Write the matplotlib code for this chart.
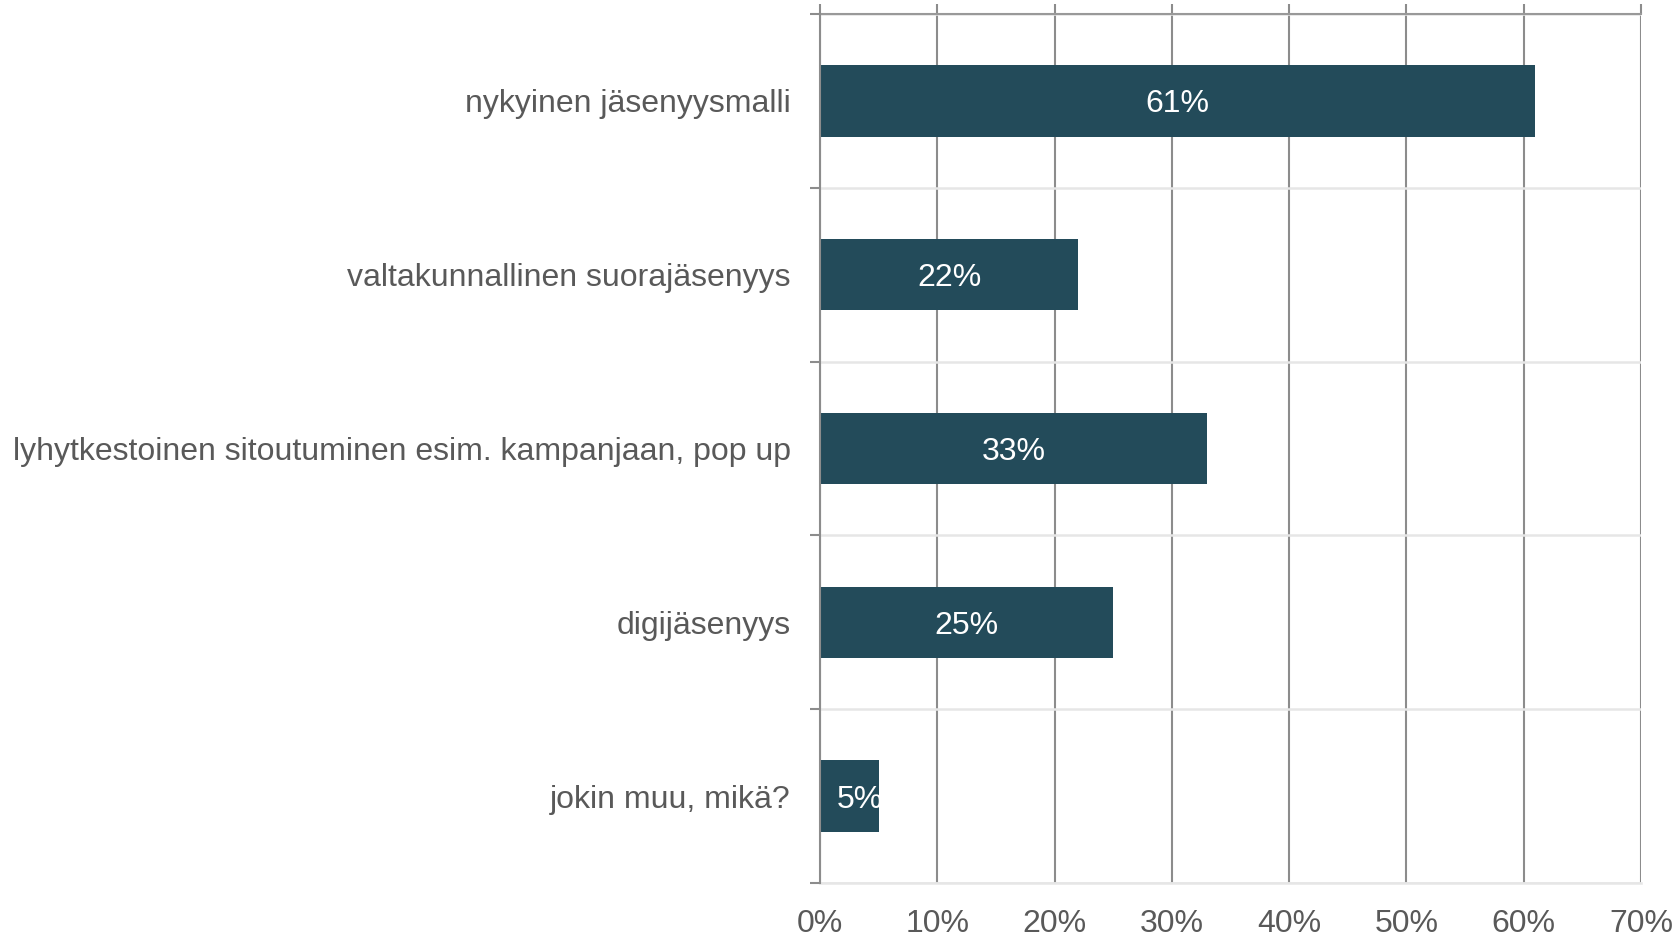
import numpy as np
import matplotlib.pyplot as plt

# data
categories = ["nykyinen jäsenyysmalli",
              "valtakunnallinen suorajäsenyys",
              "lyhytkestoinen sitoutuminen esim. kampanjaan, pop up",
              "digijäsenyys",
              "jokin muu, mikä?"]
values = [61, 22, 33, 25, 5]
xticks = [0, 10, 20, 30, 40, 50, 60, 70]

plt.rcParams['font.family'] = ['Liberation Sans', 'DejaVu Sans']
fs = 23

fig = plt.figure(figsize=(16.8, 9.39), dpi=100)
ax = fig.add_axes([820/1680, 1 - 883/939, (1641 - 820)/1680, (883 - 14)/939])

y = np.arange(len(categories))
bars = ax.barh(y, values, height=0.41, color='#234B5A', zorder=3)

ax.set_xlim(0, 70)
ax.set_ylim(len(categories) - 0.5, -0.5)

# labels inside bars, clipped to the bar (narrow bars: label starts near left edge)
for b, v in zip(bars, values):
    yc = b.get_y() + b.get_height() / 2
    if v < 8:
        t = ax.text(1.4, yc, f"{v}%", ha='left', va='center_baseline',
                    color='white', fontsize=fs, zorder=4)
    else:
        t = ax.text(b.get_width() / 2, yc, f"{v}%", ha='center', va='center_baseline',
                    color='white', fontsize=fs, zorder=4)
    t.set_clip_path(b)

ax.set_xticks(xticks)
ax.set_xticklabels([f"{t}%" for t in xticks], fontsize=fs, color='#595959')
ax.tick_params(axis='x', bottom=False, top=True, direction='out', length=7,
               width=1.5, color='#8C8C8C', pad=12, labelbottom=True, labeltop=False)

ax.set_yticks(y)
ax.set_yticklabels(categories, fontsize=fs, color='#595959')
ax.set_yticks(np.arange(-0.5, len(categories)), minor=True)
ax.tick_params(axis='y', which='major', length=0, pad=21)
ax.tick_params(axis='y', which='minor', length=7, width=1.5, color='#8C8C8C', direction='out')

ax.grid(axis='x', color='#8C8C8C', linewidth=1.5, zorder=1)
ax.grid(axis='y', which='minor', color='#E6E6E6', linewidth=1.8, zorder=0)

ax.spines['right'].set_visible(False)
ax.spines['left'].set_color('#8C8C8C')
ax.spines['left'].set_linewidth(1.5)
ax.spines['left'].set_zorder(5)
ax.spines['top'].set_color('#999999')
ax.spines['top'].set_linewidth(1.5)
ax.spines['bottom'].set_color('#E6E6E6')
ax.spines['bottom'].set_linewidth(1.8)

fig.savefig('out.png', dpi=100)
